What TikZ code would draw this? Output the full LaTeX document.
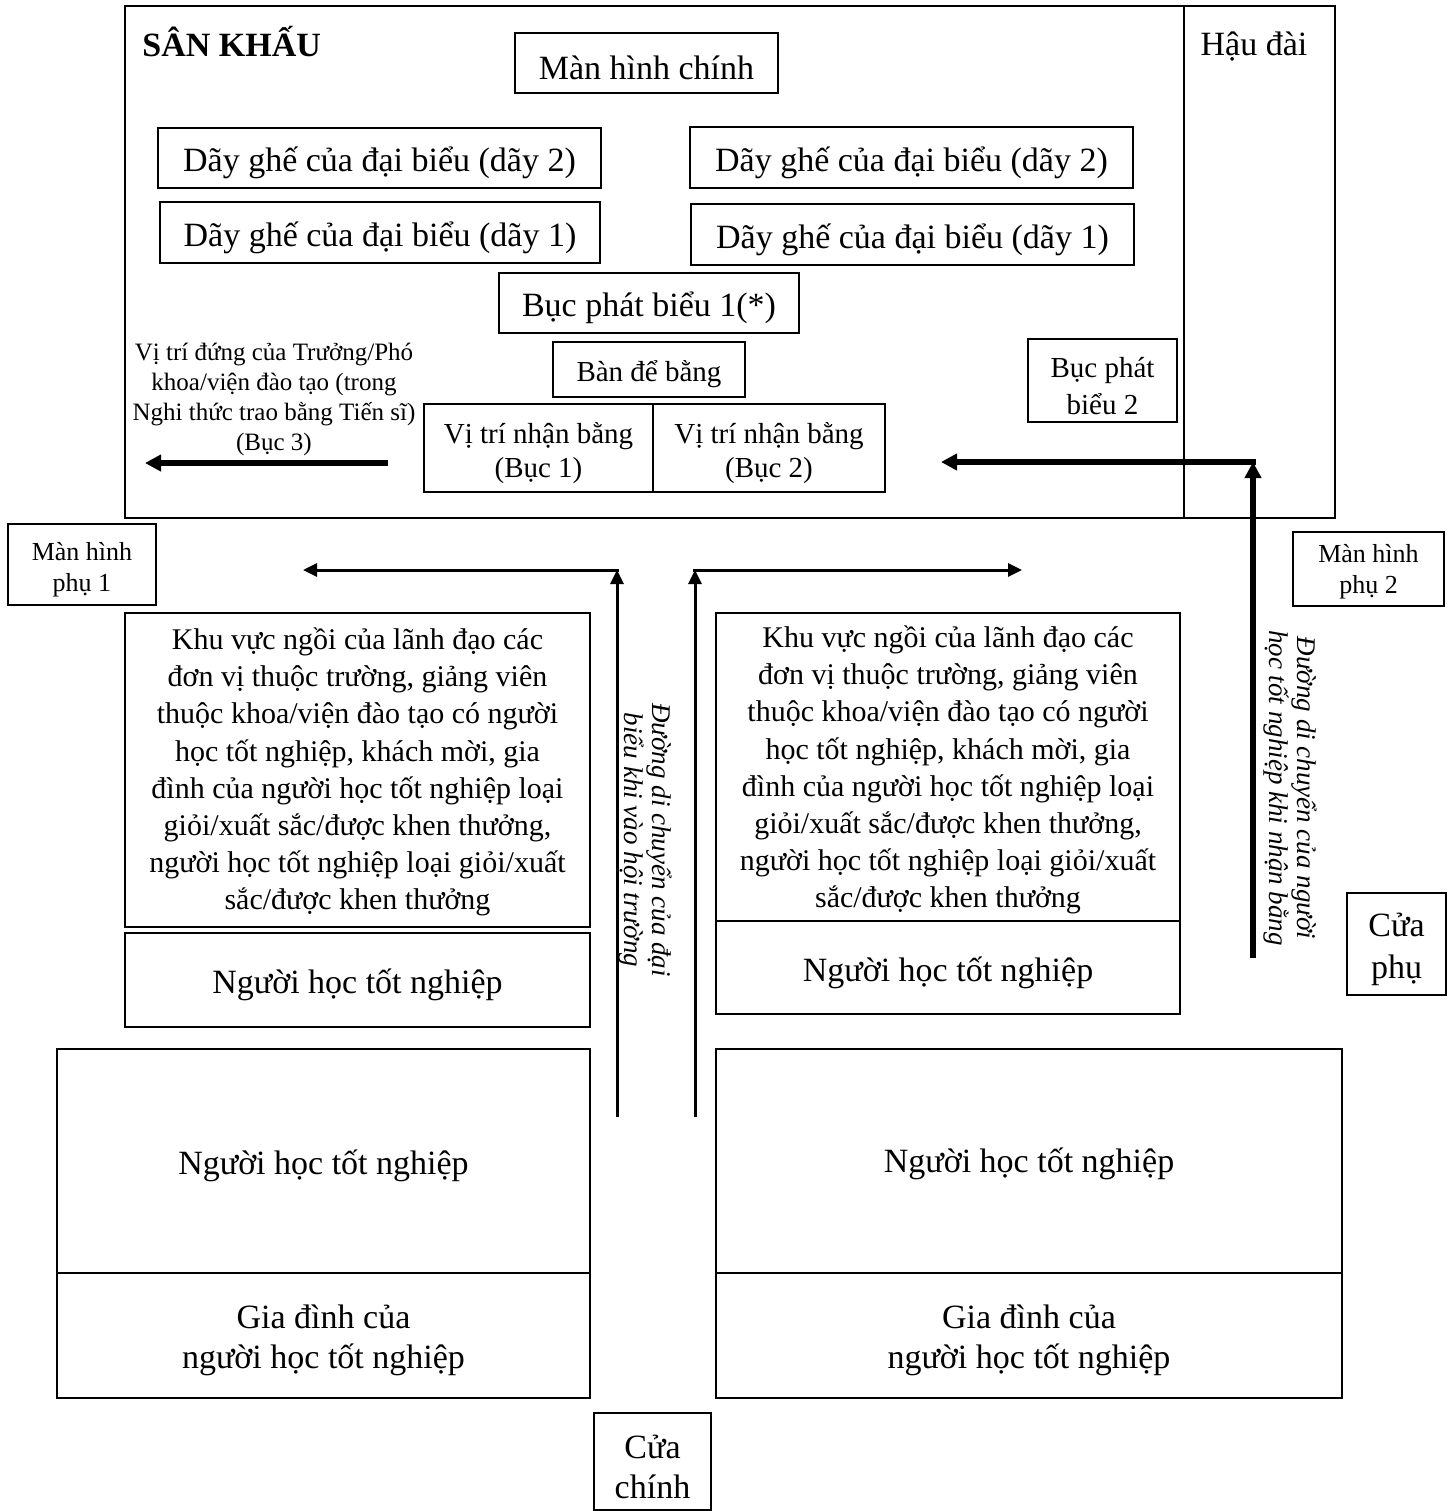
\documentclass[tikz,border=0pt]{standalone}
\usepackage{fontspec}
\setmainfont{Liberation Serif}
\usetikzlibrary{arrows.meta,fit}
\newcommand\fsz[2]{\fontsize{#1}{#2}\selectfont}
% \bx[text shift]{name}{fit coordinates}{text style}{text}
\newcommand\bx[5][-2.5pt]{\node[box, fit={#3}] (#2) {};
  \node[#4, align=center, inner sep=0pt, yshift=#1] (#2T) at (#2.center) {#5};}
\begin{document}
\begin{tikzpicture}[x=0.5pt,y=-0.5pt,
  box/.style={draw, line width=0.9pt, inner sep=0pt, outer sep=0pt},
  big/.style={font=\fsz{17}{20}},
  mid/.style={font=\fsz{14.5}{17}},
  small/.style={font=\fsz{13}{15.5}},
  longtxt/.style={font=\fsz{15}{18.6}},
  rot/.style={rotate=-90, font=\itshape\fsz{13.5}{14}, align=center, inner sep=0pt},
  thickarrow/.style={line width=2.8pt, -{Triangle[length=8pt,width=8pt]}},
  thinarrow/.style={line width=1.5pt, -{Triangle[length=7pt,width=6.5pt]}},
]
\fill[white] (0,0) rectangle (1454,1511);
\useasboundingbox (0,0) rectangle (1454,1511);

% stage
\node[box, fit={(125,6) (1335,518)}] (stage) {};
\node[box, fit={(1184,6) (1335,518)}] (haudai) {};
\node[big, anchor=base] (haudaiT) at (1254,55) {Hậu đài};
\node[font=\bfseries\fsz{17}{20}, anchor=base west, inner sep=0pt] (sankhau) at (142,56) {SÂN KHẤU};

\bx{manchinh}{(515,33) (778,93)}{big}{Màn hình chính}
\bx{dgTL}{(158,128) (601,188)}{big}{Dãy ghế của đại biểu (dãy 2)}
\bx{dgTR}{(690,127) (1133,188)}{big}{Dãy ghế của đại biểu (dãy 2)}
\bx{dgBL}{(160,202) (600,263)}{big}{Dãy ghế của đại biểu (dãy 1)}
\bx{dgBR}{(691,204) (1134,265)}{big}{Dãy ghế của đại biểu (dãy 1)}
\bx{bucA}{(499,273) (799,333)}{big}{Bục phát biểu 1(*)}
\bx{bande}{(553,342) (745,397)}{mid}{Bàn để bằng}
\bx[-3pt]{bucB}{(1028,339) (1177,422)}{font=\fsz{14.5}{18.5}}{Bục phát\\biểu 2}
\bx{vtA}{(424,404) (653,492)}{mid}{Vị trí nhận bằng\\(Bục 1)}
\bx{vtB}{(653,404) (885,492)}{mid}{Vị trí nhận bằng\\(Bục 2)}
\node[font=\fsz{12.5}{15}, align=center, inner sep=0pt] (bucC) at (274,399)
  {Vị trí đứng của Trưởng/Phó\\khoa/viện đào tạo (trong\\Nghi thức trao bằng Tiến sĩ)\\(Bục 3)};

% stage arrows
\coordinate (a1s) at (388,463);
\coordinate (a1e) at (145,463);
\draw[thickarrow] (a1s) -- (a1e);
\coordinate (r0) at (1253,958);
\coordinate (r1) at (1253,462);
\coordinate (r1b) at (1256,462);
\coordinate (r2) at (941,462);
\draw[thickarrow] (r0) -- (r1);
\draw[thickarrow] (r1b) -- (r2);

% side screens
\bx{mpA}{(8,524) (156,605)}{small}{Màn hình\\phụ 1}
\bx[-1.5pt]{mpB}{(1293,532) (1444,606)}{small}{Màn hình\\phụ 2}

% aisle arrows
\coordinate (l0) at (617,1117);
\coordinate (l1) at (617,570);
\coordinate (l1b) at (619,570);
\coordinate (l2) at (303,570);
\draw[thinarrow] (l0) -- (l1);
\draw[thinarrow] (l1b) -- (l2);
\coordinate (m0) at (695,1117);
\coordinate (m1) at (695,570);
\coordinate (m1b) at (693,570);
\coordinate (m2) at (1022,570);
\draw[thinarrow] (m0) -- (m1);
\draw[thinarrow] (m1b) -- (m2);

\node[rot] (lblL) at (645,840) {Đường di chuyển của đại\\biểu khi vào hội trường};
\node[rot] (lblR) at (1290,788) {Đường di chuyển của người\\học tốt nghiệp khi nhận bằng};

% seating blocks upper
\bx[-1pt]{khuL}{(125,613) (590,927)}{longtxt}{Khu vực ngồi của lãnh đạo các\\đơn vị thuộc trường, giảng viên\\thuộc khoa/viện đào tạo có người\\học tốt nghiệp, khách mời, gia\\đình của người học tốt nghiệp loại\\giỏi/xuất sắc/được khen thưởng,\\người học tốt nghiệp loại giỏi/xuất\\sắc/được khen thưởng}
\bx{nhL}{(125,933) (590,1027)}{big}{Người học tốt nghiệp}
\bx[-1.5pt]{khuR}{(716,613) (1180,921)}{longtxt}{Khu vực ngồi của lãnh đạo các\\đơn vị thuộc trường, giảng viên\\thuộc khoa/viện đào tạo có người\\học tốt nghiệp, khách mời, gia\\đình của người học tốt nghiệp loại\\giỏi/xuất sắc/được khen thưởng,\\người học tốt nghiệp loại giỏi/xuất\\sắc/được khen thưởng}
\bx{nhR}{(716,921) (1180,1014)}{big}{Người học tốt nghiệp}

\bx{cuaphu}{(1347,893) (1446,995)}{font=\fsz{17}{21}}{Cửa\\phụ}

% seating blocks lower
\bx{nhLL}{(57,1049) (590,1273)}{big}{Người học tốt nghiệp}
\bx{gdL}{(57,1273) (590,1398)}{big}{Gia đình của\\người học tốt nghiệp}
\bx[-1.5pt]{nhLR}{(716,1049) (1342,1273)}{big}{Người học tốt nghiệp}
\bx{gdR}{(716,1273) (1342,1398)}{big}{Gia đình của\\người học tốt nghiệp}

\bx{cuachinh}{(594,1413) (711,1510)}{big}{Cửa\\chính}
\end{tikzpicture}
\end{document}
